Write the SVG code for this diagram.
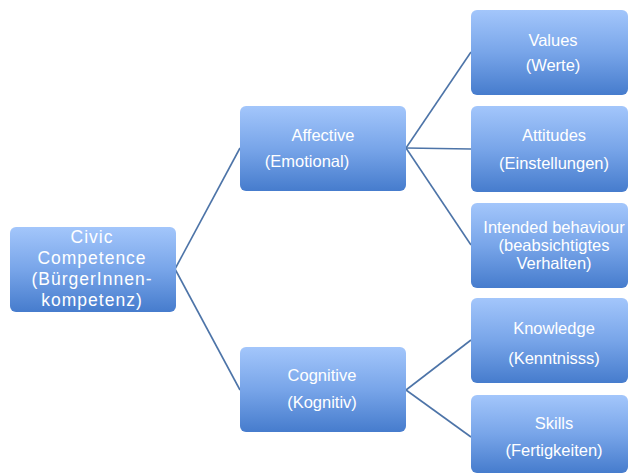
<svg xmlns="http://www.w3.org/2000/svg" width="632" height="475" viewBox="0 0 632 475">
  <defs>
    <linearGradient id="boxFill" x1="0" y1="0" x2="0" y2="1">
      <stop offset="0" stop-color="#a3c6fb"/>
      <stop offset="0.5" stop-color="#78a5e9"/>
      <stop offset="1" stop-color="#467ccd"/>
    </linearGradient>
    <style>
      .box { fill: url(#boxFill); }
      .lbl { font-family: "Liberation Sans", Arial, sans-serif; font-size: 16.5px; fill: #ffffff; text-anchor: middle; }
      .wide { font-size: 17.5px; letter-spacing: 1px; }
      .link { stroke: #4d74a8; stroke-width: 1.6; fill: none; }
    </style>
  </defs>
  <rect width="632" height="475" fill="#ffffff"/>

  <g id="connectors">
    <path class="link" d="M175,269 L240,148"/>
    <path class="link" d="M175,269 L240,390"/>
    <path class="link" d="M406,148 L471,52"/>
    <path class="link" d="M406,148 L471,149"/>
    <path class="link" d="M406,148 L471,245"/>
    <path class="link" d="M406,390 L471,340"/>
    <path class="link" d="M406,390 L471,437"/>
  </g>

  <g id="civic">
    <rect class="box" x="10" y="227" width="166" height="85" rx="6"/>
    <text class="lbl wide" x="92" y="243">Civic</text>
    <text class="lbl wide" x="92" y="264">Competence</text>
    <text class="lbl wide" x="92" y="285">(BürgerInnen-</text>
    <text class="lbl wide" x="92" y="306">kompetenz)</text>
  </g>

  <g id="affective">
    <rect class="box" x="240" y="106" width="166" height="85" rx="6"/>
    <text class="lbl" x="323" y="141">Affective</text>
    <text class="lbl" x="307" y="167">(Emotional)</text>
  </g>

  <g id="cognitive">
    <rect class="box" x="240" y="347" width="166" height="85" rx="6"/>
    <text class="lbl" x="322" y="381">Cognitive</text>
    <text class="lbl" x="322" y="408">(Kognitiv)</text>
  </g>

  <g id="values">
    <rect class="box" x="471" y="10" width="157" height="85" rx="6"/>
    <text class="lbl" x="553" y="46">Values</text>
    <text class="lbl" x="553" y="71">(Werte)</text>
  </g>

  <g id="attitudes">
    <rect class="box" x="471" y="106" width="157" height="86" rx="6"/>
    <text class="lbl" x="554" y="141">Attitudes</text>
    <text class="lbl" x="554" y="169">(Einstellungen)</text>
  </g>

  <g id="intended">
    <rect class="box" x="471" y="203" width="157" height="85" rx="6"/>
    <text class="lbl" x="554" y="233">Intended behaviour</text>
    <text class="lbl" x="554" y="251">(beabsichtigtes</text>
    <text class="lbl" x="554" y="269">Verhalten)</text>
  </g>

  <g id="knowledge">
    <rect class="box" x="471" y="298" width="157" height="85" rx="6"/>
    <text class="lbl" x="554" y="334">Knowledge</text>
    <text class="lbl" x="554" y="364">(Kenntnisss)</text>
  </g>

  <g id="skills">
    <rect class="box" x="471" y="395" width="157" height="78" rx="6"/>
    <text class="lbl" x="554" y="429">Skills</text>
    <text class="lbl" x="554" y="456">(Fertigkeiten)</text>
  </g>
</svg>
